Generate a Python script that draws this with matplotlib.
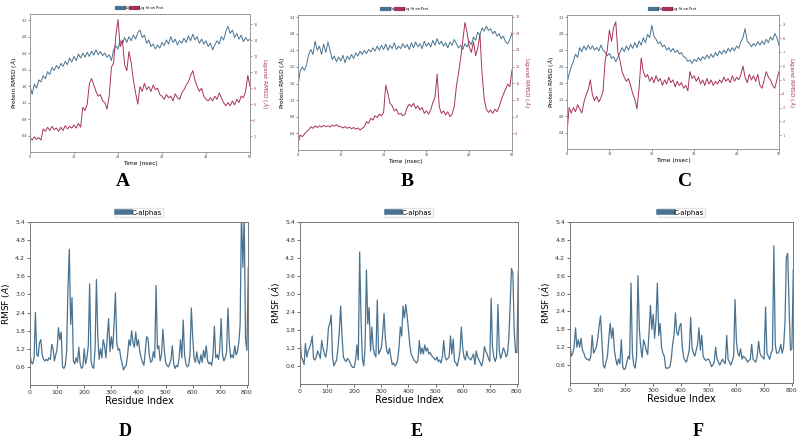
import numpy as np
import matplotlib
matplotlib.use("Agg")
import matplotlib.pyplot as plt

BLUE = "#4a7391"
RED = "#a8325e"

# ---- RMSD data (every 0.5 ns, 0..50 ns) ----
a_prot = [1.60, 1.40, 1.65, 1.55, 1.75, 1.70, 1.85, 1.78, 1.95, 1.88, 2.05, 1.98, 2.10, 2.02, 2.15, 2.08,
          2.20, 2.12, 2.28, 2.18, 2.32, 2.22, 2.38, 2.28, 2.40, 2.30, 2.42, 2.32, 2.45, 2.35, 2.48, 2.36,
          2.44, 2.34, 2.40, 2.30, 2.36, 2.22, 2.48, 2.58, 2.50, 2.70, 2.62, 2.78, 2.66, 2.80, 2.70, 2.84,
          2.74, 2.90, 2.96, 2.78, 2.84, 2.64, 2.72, 2.56, 2.62, 2.50, 2.60, 2.52, 2.66, 2.58, 2.72, 2.62,
          2.80, 2.66, 2.74, 2.60, 2.70, 2.64, 2.76, 2.66, 2.82, 2.70, 2.86, 2.72, 2.80, 2.64, 2.74, 2.62,
          2.70, 2.56, 2.64, 2.48, 2.60, 2.70, 2.62, 2.80, 2.72, 2.92, 3.05, 2.88, 2.96, 2.78, 2.88, 2.74,
          2.84, 2.68, 2.78, 2.70, 2.74]
a_lig = [1.8, 1.5, 1.9, 1.6, 1.8, 1.5, 2.9, 2.6, 3.1, 2.7, 3.2, 2.8, 3.0, 2.6, 3.1, 2.7, 3.3, 2.9, 3.2, 3.0,
         3.4, 3.0, 3.6, 3.1, 5.6, 5.2, 6.0, 8.6, 9.2, 8.4, 7.6, 7.0, 7.2, 6.4, 6.2, 5.4, 7.0, 10.6, 11.2, 14.5,
         16.6, 13.2, 14.0, 11.0, 10.2, 12.6, 11.2, 9.0, 7.4, 6.0, 8.2, 7.6, 8.6, 7.8, 8.2, 7.6, 8.4, 7.8, 8.0, 7.2,
         7.0, 6.6, 7.2, 6.8, 7.0, 6.4, 7.3, 6.8, 6.6, 7.4, 7.8, 8.4, 8.8, 9.6, 10.2, 9.0, 8.2, 7.6, 8.0, 7.0,
         6.6, 6.4, 6.8, 6.4, 7.0, 6.6, 7.4, 6.8, 6.2, 5.8, 6.2, 5.8, 6.4, 5.9, 6.6, 6.2, 7.0, 6.8, 7.6, 9.6, 8.2]

b_prot = [1.55, 1.90, 2.00, 1.92, 2.05, 2.30, 2.42, 2.30, 2.62, 2.40, 2.50, 2.30, 2.55, 2.35, 2.60, 2.40,
          2.18, 2.26, 2.12, 2.24, 2.14, 2.28, 2.10, 2.26, 2.18, 2.30, 2.20, 2.34, 2.26, 2.38, 2.30, 2.40,
          2.32, 2.42, 2.36, 2.46, 2.38, 2.50, 2.40, 2.52, 2.42, 2.55, 2.40, 2.52, 2.44, 2.58, 2.42, 2.50,
          2.44, 2.56, 2.46, 2.54, 2.42, 2.58, 2.46, 2.60, 2.48, 2.56, 2.44, 2.62, 2.50, 2.58, 2.48, 2.64,
          2.52, 2.68, 2.54, 2.62, 2.50, 2.58, 2.46, 2.60, 2.52, 2.66, 2.56, 2.46, 2.52, 2.42, 2.56, 2.48,
          2.62, 2.54, 2.72, 2.64, 2.84, 2.76, 2.94, 2.86, 2.98, 2.88, 2.92, 2.80, 2.86, 2.74, 2.80, 2.68,
          2.74, 2.60, 2.56, 2.66, 2.82]
b_lig = [1.5, 3.6, 3.2, 3.8, 4.4, 4.8, 5.6, 5.2, 5.8, 5.4, 5.8, 5.5, 5.9, 5.6, 5.8, 5.5, 6.0, 5.7, 6.1, 5.6,
         5.6, 5.3, 5.6, 5.2, 5.5, 5.1, 5.4, 5.0, 5.3, 4.8, 5.2, 5.6, 6.8, 6.4, 7.6, 7.2, 8.2, 7.8, 8.6, 8.2,
         9.0, 15.6, 13.6, 11.2, 10.6, 9.4, 9.8, 8.6, 8.8, 8.2, 8.6, 10.2, 11.0, 10.4, 11.2, 10.0, 10.6, 9.6, 10.2, 8.8,
         9.4, 8.6, 9.6, 11.4, 12.6, 18.2, 10.4, 8.8, 9.4, 8.4, 9.2, 8.0, 8.6, 10.4, 15.2, 18.4, 22.0, 26.2, 30.6, 28.2,
         24.8, 23.4, 26.0, 22.6, 24.4, 27.8, 18.4, 12.2, 9.8, 9.0, 9.6, 8.8, 9.8, 9.2, 10.4, 12.0, 13.4, 14.6, 15.8, 15.2,
         19.2]

c_prot = [1.60, 1.82, 2.00, 2.12, 2.30, 2.22, 2.46, 2.36, 2.50, 2.40, 2.52, 2.42, 2.50, 2.40, 2.46, 2.38,
          2.52, 2.40, 2.34, 2.26, 2.32, 2.20, 2.24, 2.12, 2.22, 2.34, 2.46, 2.36, 2.50, 2.40, 2.54, 2.44,
          2.58, 2.46, 2.62, 2.52, 2.70, 2.58, 2.78, 2.70, 3.00, 2.74, 2.66, 2.56, 2.60, 2.48, 2.52, 2.40,
          2.46, 2.36, 2.44, 2.34, 2.40, 2.30, 2.34, 2.24, 2.22, 2.12, 2.16, 2.08, 2.18, 2.12, 2.22, 2.14,
          2.24, 2.18, 2.28, 2.20, 2.30, 2.22, 2.34, 2.26, 2.38, 2.30, 2.40, 2.32, 2.44, 2.36, 2.46, 2.38,
          2.50, 2.44, 2.60, 2.70, 2.92, 2.62, 2.56, 2.48, 2.56, 2.50, 2.60, 2.52, 2.62, 2.54, 2.66, 2.58,
          2.72, 2.64, 2.80, 2.70, 2.52]
c_lig = [1.2, 3.0, 2.6, 3.0, 2.7, 3.2, 2.9, 2.6, 3.4, 3.9, 4.3, 5.0, 3.9, 3.5, 3.8, 3.4, 3.7, 4.2, 6.4, 7.2,
         8.6, 7.8, 8.8, 9.2, 7.0, 6.4, 5.6, 5.2, 4.9, 5.1, 4.6, 4.0, 3.6, 2.9, 4.4, 6.6, 5.6, 5.2, 5.4, 4.9,
         5.2, 4.8, 5.3, 4.9, 5.1, 4.6, 5.0, 4.7, 5.2, 4.8, 5.0, 4.5, 4.9, 4.6, 4.8, 4.4, 4.6, 4.2, 5.6, 5.1,
         5.3, 4.9, 5.2, 4.7, 5.0, 4.6, 5.1, 4.7, 5.0, 4.6, 4.9, 4.7, 5.0, 4.8, 5.2, 4.9, 5.1, 4.8, 5.3, 4.9,
         5.2, 5.0, 5.4, 6.0, 5.2, 4.8, 5.4, 5.0, 5.3, 4.9, 5.4, 4.6, 4.4, 5.0, 5.6, 5.2, 5.0, 4.6, 4.4, 5.0,
         5.6]

# ---- RMSF data (every 5 residues, 0..805) ----
d_rmsf = [1.0, 0.75, 0.7, 0.9, 2.4, 1.0, 0.95, 1.4, 1.5, 1.0,
          0.85, 0.8, 0.85, 0.8, 0.9, 0.85, 1.35, 1.2, 0.8, 1.0,
          1.2, 1.9, 1.5, 1.75, 0.6, 0.55, 0.65, 1.1, 3.2, 4.5,
          2.0, 2.9, 0.8, 0.7, 0.9, 0.75, 1.25, 0.7, 0.55, 0.6,
          1.2, 0.7, 0.9, 1.3, 3.35, 0.8, 0.6, 0.55, 1.2, 3.5,
          1.6, 0.85, 1.2, 0.9, 1.5, 1.3, 0.9, 1.6, 2.2, 1.1,
          1.6, 1.2, 2.0, 3.05, 1.4, 1.15, 1.2, 0.9, 0.7, 0.5,
          0.6, 0.65, 1.0, 1.5, 1.3, 1.8, 1.4, 1.25, 1.75, 1.3,
          1.5, 1.1, 0.9, 0.75, 0.65, 1.1, 1.6, 1.55, 1.0, 0.75,
          0.8, 1.1, 0.9, 3.3, 1.2, 1.3, 0.8, 1.0, 1.85, 1.2,
          0.75, 0.65, 0.6, 0.7, 0.85, 1.3, 0.7, 0.55, 0.65, 0.6,
          0.9, 1.5, 0.9, 2.15, 1.0, 0.7, 0.6, 0.65, 1.0, 2.55,
          1.6, 0.9, 0.75, 1.1, 0.8, 0.7, 1.0, 0.75, 1.15, 0.9,
          1.3, 0.8, 0.7, 0.75, 0.65, 1.0, 1.95, 0.9, 1.0, 0.85,
          1.2, 2.2, 1.0, 0.8, 0.9, 1.1, 2.55, 1.4, 0.9, 1.0,
          0.9, 1.3, 1.0, 1.1, 1.4, 2.0, 5.8, 3.9, 5.6, 1.5,
          1.15, 3.9]
e_rmsf = [1.6, 0.9, 0.8, 0.65, 1.35, 0.9, 1.1, 1.2, 1.35, 1.6,
          0.85, 0.8, 0.9, 1.1, 1.0, 0.85, 1.45, 1.2, 1.0, 0.9,
          1.2, 1.9, 2.0, 2.3, 0.9, 0.6, 0.7, 0.8, 1.2, 1.75,
          2.6, 1.6, 0.9, 0.8, 0.75, 0.85, 0.8, 0.7, 0.6, 0.55,
          0.55, 0.8, 1.3, 0.8, 4.4, 2.2, 0.85, 0.6, 1.2, 3.8,
          2.0, 2.55, 1.1, 1.9, 1.2, 1.0, 0.9, 2.8, 1.0, 1.1,
          1.2, 1.7, 2.35, 1.5, 1.1, 1.0, 1.2, 0.9, 0.65, 0.7,
          0.6, 0.65, 0.8, 1.2, 1.9, 1.6, 2.6, 2.2, 2.65, 2.3,
          1.8, 1.3, 1.0, 0.9, 0.8, 0.75, 0.7, 0.8, 1.45, 1.0,
          1.2, 1.0, 1.3, 1.1, 1.2, 1.0, 1.05, 0.95, 0.9, 0.85,
          0.8, 0.9, 0.75, 0.8, 0.7, 0.9, 1.45, 0.9, 0.8, 0.85,
          0.9, 1.6, 1.0, 1.5, 0.75, 0.7, 0.6, 0.8, 1.1, 1.9,
          1.2, 0.9, 0.8, 1.1, 0.9, 0.85, 0.8, 0.9, 1.0, 0.65,
          1.1, 0.9, 0.8, 0.7, 0.6, 0.8, 1.25, 1.1, 1.0, 0.85,
          0.75, 2.85, 1.2, 0.9, 0.75, 0.9, 2.65, 1.1, 0.85, 1.0,
          1.2, 1.1, 0.9, 1.0, 1.5, 2.6, 3.85, 3.7, 1.8, 1.05,
          1.05, 3.75]
f_rmsf = [1.3, 0.9, 1.0, 1.2, 1.85, 1.2, 1.45, 1.2, 1.5, 1.1,
          1.0, 0.85, 0.8, 0.8, 0.75, 0.9, 1.6, 1.0, 1.1, 1.2,
          1.5, 1.9, 2.25, 1.4, 0.6, 0.5, 0.7, 0.9, 1.5, 2.0,
          1.5, 1.85, 1.1, 0.8, 0.6, 0.8, 0.65, 1.45, 0.55, 0.45,
          0.5, 0.7, 0.9, 0.8, 3.35, 1.0, 0.6, 0.5, 0.9, 3.6,
          1.8, 1.2, 0.85, 1.45, 1.3, 1.1, 0.95, 1.7, 2.6, 1.8,
          2.3, 1.5, 2.1, 3.35, 1.6, 2.0, 1.2, 1.0, 0.9, 0.5,
          0.5, 0.5, 0.55, 0.8, 1.3, 1.6, 2.35, 1.7, 1.6, 1.9,
          2.0, 1.2, 0.85, 0.75, 0.7, 0.9, 1.1, 2.2, 1.2, 1.0,
          0.9, 1.1, 1.3, 1.85, 1.1, 1.6, 0.9, 0.8, 0.75, 0.8,
          0.8, 0.7, 0.55, 0.6, 0.7, 1.2, 0.8, 0.7, 0.6, 0.7,
          0.8, 0.7, 0.65, 1.6, 0.8, 0.7, 0.6, 0.75, 0.9, 2.8,
          1.4, 1.0, 0.9, 1.15, 0.8, 0.9, 0.85, 0.8, 0.7, 0.75,
          0.8, 1.3, 0.8, 0.75, 0.7, 0.9, 1.4, 1.0, 0.9, 0.85,
          0.8, 2.55, 1.0, 0.9, 0.8, 1.0, 1.1, 4.6, 1.3, 1.0,
          1.0, 1.1, 1.3, 1.0, 1.2, 2.0, 4.2, 4.35, 2.5, 1.1,
          1.15, 3.8]

rmsd_sets = [("A", a_prot, a_lig, (0, 17.3), [2, 4, 6, 8, 10, 12, 14, 16], (0, 3.35)),
             ("B", b_prot, b_lig, (0, 32.4), [4, 8, 12, 16, 20, 24, 28, 32], (0, 3.25)),
             ("C", c_prot, c_lig, (0, 9.7), [1, 2, 3, 4, 5, 6, 7, 8, 9], (0, 3.25))]
rmsf_sets = [("D", d_rmsf, (0, 5.4)), ("E", e_rmsf, (0, 5.3)), ("F", f_rmsf, (0, 5.4))]

W, H = 800, 442
fig = plt.figure(figsize=(8, 4.42), dpi=100)


def px_axes(x0, y0, x1, y1):
    return fig.add_axes([x0 / W, 1 - y1 / H, (x1 - x0) / W, (y1 - y0) / H])


top_boxes = [(30, 14, 250, 152), (298, 15, 512, 150), (567, 15, 779, 149)]
bot_boxes = [(30, 222, 248, 385), (300, 222, 518, 384), (570, 222, 793, 383)]
top_letters = [(123, 186), (407, 186), (685, 186)]
bot_letters = [(125, 436), (417, 436), (698, 436)]

for (name, prot, lig, rlim, rticks, llim), box, lpos in zip(rmsd_sets, top_boxes, top_letters):
    ax = px_axes(*box)
    t = np.linspace(0, 50, len(prot))
    ax.plot(t, prot, color=BLUE, lw=0.7, label="C\u03b1")
    ax.set_xlim(0, 50)
    ax.set_ylim(*llim)
    ax.set_yticks([0.4, 0.8, 1.2, 1.6, 2.0, 2.4, 2.8, 3.2])
    ax.set_xticks([0, 10, 20, 30, 40, 50])
    ax.tick_params(labelsize=2.4, length=1.2, width=0.4, pad=1.2, colors="#333333")
    ax.set_xlabel("Time (nsec)", fontsize=4.2, labelpad=1)
    ax.set_ylabel("Protein RMSD ($\\AA$)", fontsize=4.2, labelpad=2)
    ax2 = ax.twinx()
    ax2.plot(np.linspace(0, 50, len(lig)), lig, color=RED, lw=0.7, label="Lig fit on Prot")
    ax2.set_ylim(*rlim)
    ax2.set_yticks(rticks)
    ax2.tick_params(labelsize=2.4, length=1.2, width=0.4, pad=1.2, colors=RED)
    ax2.set_ylabel("Ligand RMSD ($\\AA$)", fontsize=4.2, color=RED, rotation=270,
                   va="bottom", labelpad=2)
    for a in (ax, ax2):
        for s in a.spines.values():
            s.set_color("#999999")
            s.set_linewidth(0.6)
    h1, l1 = ax.get_legend_handles_labels()
    h2, l2 = ax2.get_legend_handles_labels()
    leg = ax.legend(h1 + h2, l1 + l2, loc="lower center", bbox_to_anchor=(0.5, 1.02), ncol=2,
                    fontsize=2.6, frameon=False, handlelength=2.0, handletextpad=0.2,
                    columnspacing=0.3, borderaxespad=0)
    for ln in leg.get_lines():
        ln.set_linewidth(3)
    fig.text(lpos[0] / W, 1 - lpos[1] / H, name, fontsize=14, fontweight="bold",
             family="Liberation Serif", ha="center", va="baseline")

for (name, vals, ylim), box, lpos in zip(rmsf_sets, bot_boxes, bot_letters):
    ax = px_axes(*box)
    res = np.arange(len(vals)) * 5
    ax.plot(res, vals, color=BLUE, lw=0.9, label="C-alphas")
    ax.set_xlim(0, 804)
    ax.set_ylim(*ylim)
    ax.set_xticks(range(0, 801, 100))
    ax.set_yticks([0.6, 1.2, 1.8, 2.4, 3.0, 3.6, 4.2, 4.8, 5.4])
    ax.tick_params(labelsize=4.5, length=2, width=0.5, pad=1.5, colors="#333333")
    ax.set_xlabel("Residue Index", fontsize=7, labelpad=1)
    ax.set_ylabel("RMSF ($\\mathring{A}$)", fontsize=6.5, labelpad=1.5)
    for s in ax.spines.values():
        s.set_color("#777777")
        s.set_linewidth(0.7)
    leg = ax.legend(loc="lower center", bbox_to_anchor=(0.5, 1.03), fontsize=5, frameon=True,
                    handlelength=2.0, handletextpad=0.1, borderpad=0.2, borderaxespad=0,
                    fancybox=False, edgecolor="#dddddd")
    for ln in leg.get_lines():
        ln.set_linewidth(4)
    fig.text(lpos[0] / W, 1 - lpos[1] / H, name, fontsize=13, fontweight="bold",
             family="Liberation Serif", ha="center", va="baseline")

fig.savefig("out.png", dpi=100)
